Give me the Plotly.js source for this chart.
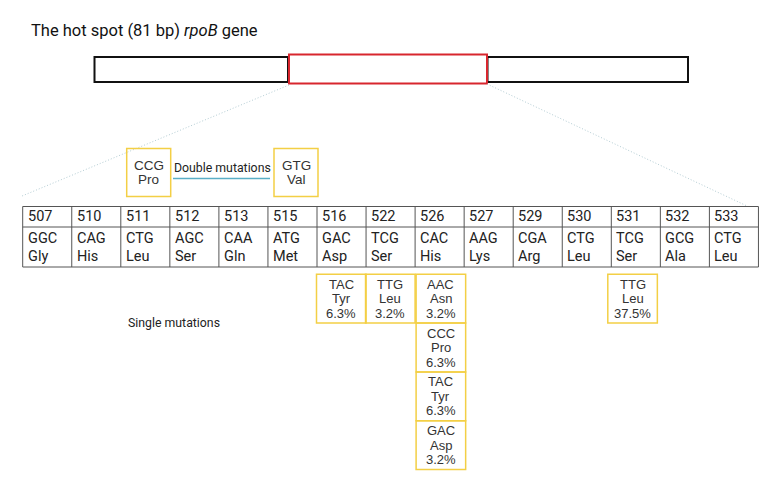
<!DOCTYPE html>
<html>
<head>
<meta charset="utf-8">
<script src="https://cdn.plot.ly/plotly-3.0.1.min.js"></script>
<style>
  html, body { margin: 0; padding: 0; background: #fff; }
  #graph { width: 770px; height: 481px; }
</style>
</head>
<body>
<div id="graph"></div>
<script>
// ---- data ----
const codonNumbers = ['507', '510', '511', '512', '513', '515', '516', '522', '526', '527', '529', '530', '531', '532', '533'];
const codons = ['GGC', 'CAG', 'CTG', 'AGC', 'CAA', 'ATG', 'GAC', 'TCG', 'CAC', 'AAG', 'CGA', 'CTG', 'TCG', 'GCG', 'CTG'];
const aminoAcids = ['Gly', 'His', 'Leu', 'Ser', 'Gln', 'Met', 'Asp', 'Ser', 'His', 'Lys', 'Arg', 'Leu', 'Ser', 'Ala', 'Leu'];

// single mutations: which codon, mutated codon, amino acid, frequency
const singleAt = ['516', '522', '526', '526', '526', '526', '531'];
const singleCodon = ['TAC', 'TTG', 'AAC', 'CCC', 'TAC', 'GAC', 'TTG'];
const singleAmino = ['Tyr', 'Leu', 'Asn', 'Pro', 'Tyr', 'Asp', 'Leu'];
const singlePct = ['6.3%', '3.2%', '3.2%', '6.3%', '6.3%', '3.2%', '37.5%'];

// double mutations
const doubleCodon = ['CCG', 'GTG'];
const doubleAmino = ['Pro', 'Val'];

// ---- layout helpers ----
const tableLeft = 22.7, colW = 49.05;
const tableTop = 206.5, rowMid = 227, tableBottom = 267;
const boxH = 48.8;
const yellow = '#f3cf45';
const txt = '#222';
const font = 'Roboto, "Open Sans", sans-serif';
const boxFont = 'Liberation Sans, Arial, sans-serif';

const shapes = [];
const ann = [];

function rect(x0, y0, x1, y1, color, width, dash) {
    shapes.push({type: 'rect', xref: 'x', yref: 'y', x0: x0, y0: y0, x1: x1, y1: y1,
        line: {color: color, width: width, dash: dash || 'solid'}, fillcolor: 'rgba(0,0,0,0)'});
}
function line(x0, y0, x1, y1, color, width, dash) {
    shapes.push({type: 'line', xref: 'x', yref: 'y', x0: x0, y0: y0, x1: x1, y1: y1,
        line: {color: color, width: width, dash: dash || 'solid'}});
}
function label(x, y, text, size, anchor, fam, color) {
    ann.push({x: x, y: y, xref: 'x', yref: 'y', text: text, showarrow: false,
        xanchor: anchor || 'center', yanchor: 'middle',
        font: {family: fam || font, size: size, color: color || txt}});
}

// ---- title ----
label(29, 30, 'The hot spot (81 bp) <i>rpoB</i> gene', 16.5, 'left', font, '#111');

// ---- gene bar ----
rect(94.5, 57, 288, 82, '#111', 2);
rect(487.5, 57, 688, 82, '#111', 2);
rect(289, 54.5, 487, 83.5, '#d8262e', 2);

// zoom lines
line(289, 85, 22, 196, '#b4cdd4', 1, '1px,2px');
line(487, 84, 747, 206, '#b4cdd4', 1, '1px,2px');

// ---- codon table ----
const tableRight = tableLeft + colW * codonNumbers.length;
rect(tableLeft, tableTop, tableRight, tableBottom, '#555', 1);
line(tableLeft, rowMid, tableRight, rowMid, '#555', 1);
codonNumbers.forEach((n, i) => {
    const x = tableLeft + i * colW;
    if (i > 0) line(x, tableTop, x, tableBottom, '#555', 1);
    label(x + 3, 216.5, n, 14.5, 'left');
    label(x + 3, 238, codons[i], 14.5, 'left');
    label(x + 3, 256.5, aminoAcids[i], 14.5, 'left');
});

// ---- single mutations ----
const stackCount = {};
singleAt.forEach((c, i) => {
    const col = codonNumbers.indexOf(c);
    const k = stackCount[c] || 0;
    stackCount[c] = k + 1;
    const x0 = tableLeft + col * colW - 0.5 + (col === 8 ? 1.5 : 0) + (col === 12 ? -3 : 0);
    const x1 = x0 + colW + 0.5;
    const y0 = 274.3 + k * boxH;
    rect(x0, y0, x1, y0 + boxH, yellow, 1.5);
    const cx = (x0 + x1) / 2;
    label(cx, y0 + 10, singleCodon[i], 13, 'center', boxFont, '#333');
    label(cx, y0 + 24.5, singleAmino[i], 13, 'center', boxFont, '#333');
    label(cx, y0 + 39, singlePct[i], 13, 'center', boxFont, '#333');
});
label(126, 322.5, 'Single mutations', 12.3, 'left');

// ---- double mutations ----
const dblX = [126.7, 274];
dblX.forEach((x0, i) => {
    rect(x0, 148.5, x0 + 44, 196.5, yellow, 1.5);
    label(x0 + 22, 165, doubleCodon[i], 13.5, 'center', boxFont, '#333');
    label(x0 + 22, 179.5, doubleAmino[i], 13.5, 'center', boxFont, '#333');
});
line(173, 178.5, 270, 178.5, '#5aaec6', 1.3);
label(222.5, 167.5, 'Double mutations', 12.3);

const layout = {
    width: 770, height: 481,
    margin: {l: 0, r: 0, t: 0, b: 0},
    paper_bgcolor: '#fff', plot_bgcolor: '#fff',
    xaxis: {range: [0, 770], visible: false, fixedrange: true},
    yaxis: {range: [481, 0], visible: false, fixedrange: true},
    shapes: shapes,
    annotations: ann,
    showlegend: false
};

Plotly.newPlot('graph', [], layout, {staticPlot: true});
</script>
</body>
</html>
